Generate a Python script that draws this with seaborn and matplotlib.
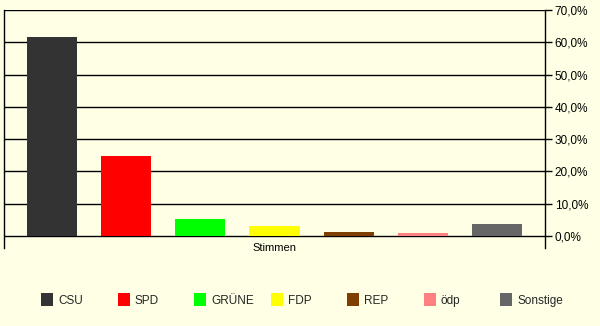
import matplotlib
matplotlib.use("Agg")
import matplotlib.pyplot as plt
from matplotlib.patches import Patch
from matplotlib.ticker import FuncFormatter
import seaborn as sns
import pandas as pd

parties = ["CSU", "SPD", "GRÜNE", "FDP", "REP", "ödp", "Sonstige"]
shares = [61.6, 24.9, 5.4, 3.1, 1.3, 0.9, 3.7]
colors = ["#333333", "#FF0000", "#00FF00", "#FFFF00", "#7F3F00", "#FF8080", "#666666"]
category = "Stimmen"
yticks = [0, 10, 20, 30, 40, 50, 60, 70]

bg = "#FFFFE5"
sns.set_theme(style="white")
plt.rcParams["font.family"] = ["Liberation Sans", "DejaVu Sans"]

fig = plt.figure(figsize=(6.0, 3.26), dpi=100, facecolor=bg)
ax = fig.add_axes([4 / 600, (326 - 248) / 326, 541 / 600, 238 / 326])
ax.set_facecolor(bg)

df = pd.DataFrame({"party": parties, "share": shares})
sns.barplot(data=df, x="party", y="share", hue="party", palette=colors,
            order=parties, hue_order=parties, dodge=False, width=50 / 74,
            saturation=1, legend=False, ax=ax, linewidth=0)

ax.set_xlim(-0.5 - 0.155, 6.5 + 0.155)
ax.set_ylim(-3.72, 70)

# gridlines
for t in yticks:
    ax.axhline(t, color="black", lw=1.0, zorder=0.5)

ax.yaxis.tick_right()
ax.set_yticks(yticks)
ax.yaxis.set_major_formatter(FuncFormatter(lambda v, p: f"{v:.1f}".replace(".", ",") + "%"))
ax.tick_params(axis="y", which="major", direction="out", length=5, width=1,
               color="black", labelsize=8.5, pad=2, labelcolor="black", right=True)
ax.set_xticks([])
ax.set_xlabel("")
ax.set_ylabel("")

ax.text(0.5, 0.0, category, transform=ax.transAxes, ha="center", va="center",
        fontsize=8, color="black")

for side in ["top", "bottom"]:
    ax.spines[side].set_visible(False)
for side in ["left", "right"]:
    ax.spines[side].set_visible(True)
    ax.spines[side].set_color("black")
    ax.spines[side].set_linewidth(1.0)

# legend: one entry per fixed-width slot, as in the original
for i, (p, c) in enumerate(zip(parties, colors)):
    x0 = (41 + 76.5 * i) / 600
    fig.legend(handles=[Patch(facecolor=c, edgecolor="none", label=p)],
               loc="center left", bbox_to_anchor=(x0, (326 - 300) / 326),
               frameon=False, fontsize=8.5, handlelength=1.05, handleheight=1.25,
               handletextpad=0.4, borderpad=0, borderaxespad=0)

fig.savefig("out.png", dpi=100, facecolor=bg)
